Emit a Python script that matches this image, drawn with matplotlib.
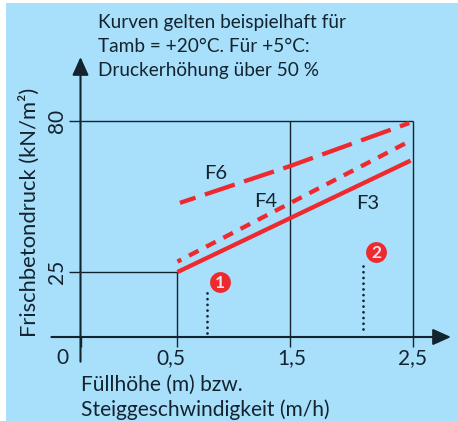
# -*- coding: utf-8 -*-
"""Frischbetondruck ueber Fuellhoehe, Kurven F3, F4 und F6."""

import matplotlib
matplotlib.use('Agg')
import matplotlib.pyplot as plt
import numpy as np
from matplotlib.patches import Rectangle
from matplotlib.transforms import ScaledTranslation

plt.rcParams['font.family'] = ['Lato', 'DejaVu Sans']

# ---- Data
x_ticks = [0, 0.5, 1.5, 2.5]
x_tick_labels = ['0', '0,5', '1,5', '2,5']
y_ticks = [25, 80]
y_tick_labels = ['25', '80']

f3_x = [0.5, 2.48]
f3_y = [25, 65.6]
f4_x = [0.5, 2.46]
f4_y = [28.8, 72.4]
f6_x = [0.522, 1.5, 2.47]
f6_y = [50.2, 63.6, 79.3]

dots1_x = [0.76, 0.76]
dots1_y = [1.5, 18]
dots2_x = [2.09, 2.09]
dots2_y = [3, 28.7]

badge_x = [0.88, 2.2]
badge_y = [21.3, 32.3]
badge_labels = ['1', '2']

curve_labels = ['F6', 'F4', 'F3']
curve_label_x = [0.84, 1.28, 2.13]
curve_label_y = [61, 50.7, 50]

note = 'Kurven gelten beispielhaft für\nTamb = +20°C. Für +5°C:\nDruckerhöhung über 50 %'
x_title = 'Füllhöhe (m) bzw.\nSteiggeschwindigkeit (m/h)'
y_title = 'Frischbetondruck (kN/m²)'

# The printed axes are not to scale, so both run piecewise linear.
x_data = [-5, 0, 0.5, 1.5, 2.5, 8]
x_pix = [-485, 0, 97, 209.5, 332.5, 1009]
y_data = [-50, 0, 25, 80, 300]
y_pix = [-130, 0, 65, 216, 821]

BLUE = '#a8dffb'
DARK = '#14242f'
RED = '#ee2a2e'
W, H = 458, 421


def x_forward(v):
    return np.interp(v, x_data, x_pix)


def x_inverse(v):
    return np.interp(v, x_pix, x_data)


def y_forward(v):
    return np.interp(v, y_data, y_pix)


def y_inverse(v):
    return np.interp(v, y_pix, y_data)


fig = plt.figure(figsize=(W / 100, H / 100), dpi=100, facecolor='white')
fig.add_artist(Rectangle((6 / W, 0), 1 - 6 / W, 1 - 3 / H, zorder=-1,
                         transform=fig.transFigure, color=BLUE, lw=0))

ax = fig.add_axes([80.5 / W, 1 - 337 / H, (451 - 80.5) / W, (337 - 57) / H])
ax.patch.set_visible(False)
ax.set_xscale('function', functions=(x_forward, x_inverse))
ax.set_yscale('function', functions=(y_forward, y_inverse))
ax.set_xlim(0, 2.5 + 38 / 123)
ax.set_ylim(0, 80 + 64 / 2.745)
for spine in ax.spines.values():
    spine.set_visible(False)

# Guide lines
guide = dict(color=DARK, lw=1.0, solid_capstyle='butt', zorder=1)
ax.plot([0, 2.5], [80, 80], **guide)
ax.plot([0, 0.5], [25, 25], **guide)
ax.plot([0.5, 0.5], [0, 25], **guide)
ax.plot([1.5, 1.5], [0, 80], **guide)
ax.plot([2.5, 2.5], [0, 80], **guide)

# Axes with arrow heads, both run past the origin
arrow = dict(arrowstyle='-|>,head_length=1.0,head_width=0.45', color=DARK,
             lw=1.5, shrinkA=0, shrinkB=0, mutation_scale=11)
ax.annotate('', xy=(0, ax.get_ylim()[1]), xytext=(0, -9.5), annotation_clip=False,
            arrowprops=arrow)
ax.annotate('', xy=(ax.get_xlim()[1], 0), xytext=(-0.3, 0), annotation_clip=False,
            arrowprops=arrow)

# Curves
ax.plot(f3_x, f3_y, color=RED, lw=3.1, solid_capstyle='butt', zorder=3)
ax.plot(f4_x, f4_y, color=RED, lw=3.1, zorder=3, dash_capstyle='butt',
        linestyle=(1.5, (2.5, 2.0)))
ax.plot(f6_x, f6_y, color=RED, lw=3.1, zorder=3, dash_capstyle='butt',
        linestyle=(3.5, (7.3, 2.3)))

# Dotted marks and the numbered badges
ax.plot(dots1_x, dots1_y, color=DARK, lw=2.0, linestyle=(0, (0.01, 2.05)),
        dash_capstyle='round')
ax.plot(dots2_x, dots2_y, color=DARK, lw=2.0, linestyle=(0, (0.01, 2.05)),
        dash_capstyle='round')
ax.scatter(badge_x, badge_y, s=225, color=RED, lw=0, zorder=4)
for bx, by, lab in zip(badge_x, badge_y, badge_labels):
    ax.text(bx, by, lab, color='#e8e4f0', fontsize=12.5, fontweight='bold',
            ha='center', va='center_baseline', zorder=5)

for lab, lx, ly in zip(curve_labels, curve_label_x, curve_label_y):
    ax.text(lx, ly, lab, color=DARK, fontsize=14.5, ha='center', va='center')

# Ticks
ax.set_xticks(x_ticks, x_tick_labels)
ax.set_yticks(y_ticks, y_tick_labels)
ax.minorticks_off()
ax.tick_params(axis='x', length=7, width=1.0, color=DARK, labelcolor=DARK,
               labelsize=15, pad=1)
ax.tick_params(axis='y', length=8.5, width=1.0, color=DARK, labelcolor=DARK,
               labelsize=15, pad=1, labelrotation=90)
for lab in ax.get_yticklabels():
    lab.set_va('center')
for lab, dx in zip(ax.get_xticklabels(), [-18, -6.5, 2, 0]):
    lab.set_transform(lab.get_transform()
                      + ScaledTranslation(dx / 100, 0, fig.dpi_scale_trans))

# Text blocks
fig.text(98 / W, 1 - 14 / H, note, color=DARK, fontsize=13.7, va='top',
         linespacing=1.5)
fig.text(81 / W, 1 - 420 / H, x_title, color=DARK, fontsize=15.1, va='bottom',
         linespacing=1.25)
fig.text(29 / W, 1 - 212 / H, y_title, color=DARK, fontsize=15.8, rotation=90,
         ha='center', va='center')

fig.savefig('out.png', dpi=100)
